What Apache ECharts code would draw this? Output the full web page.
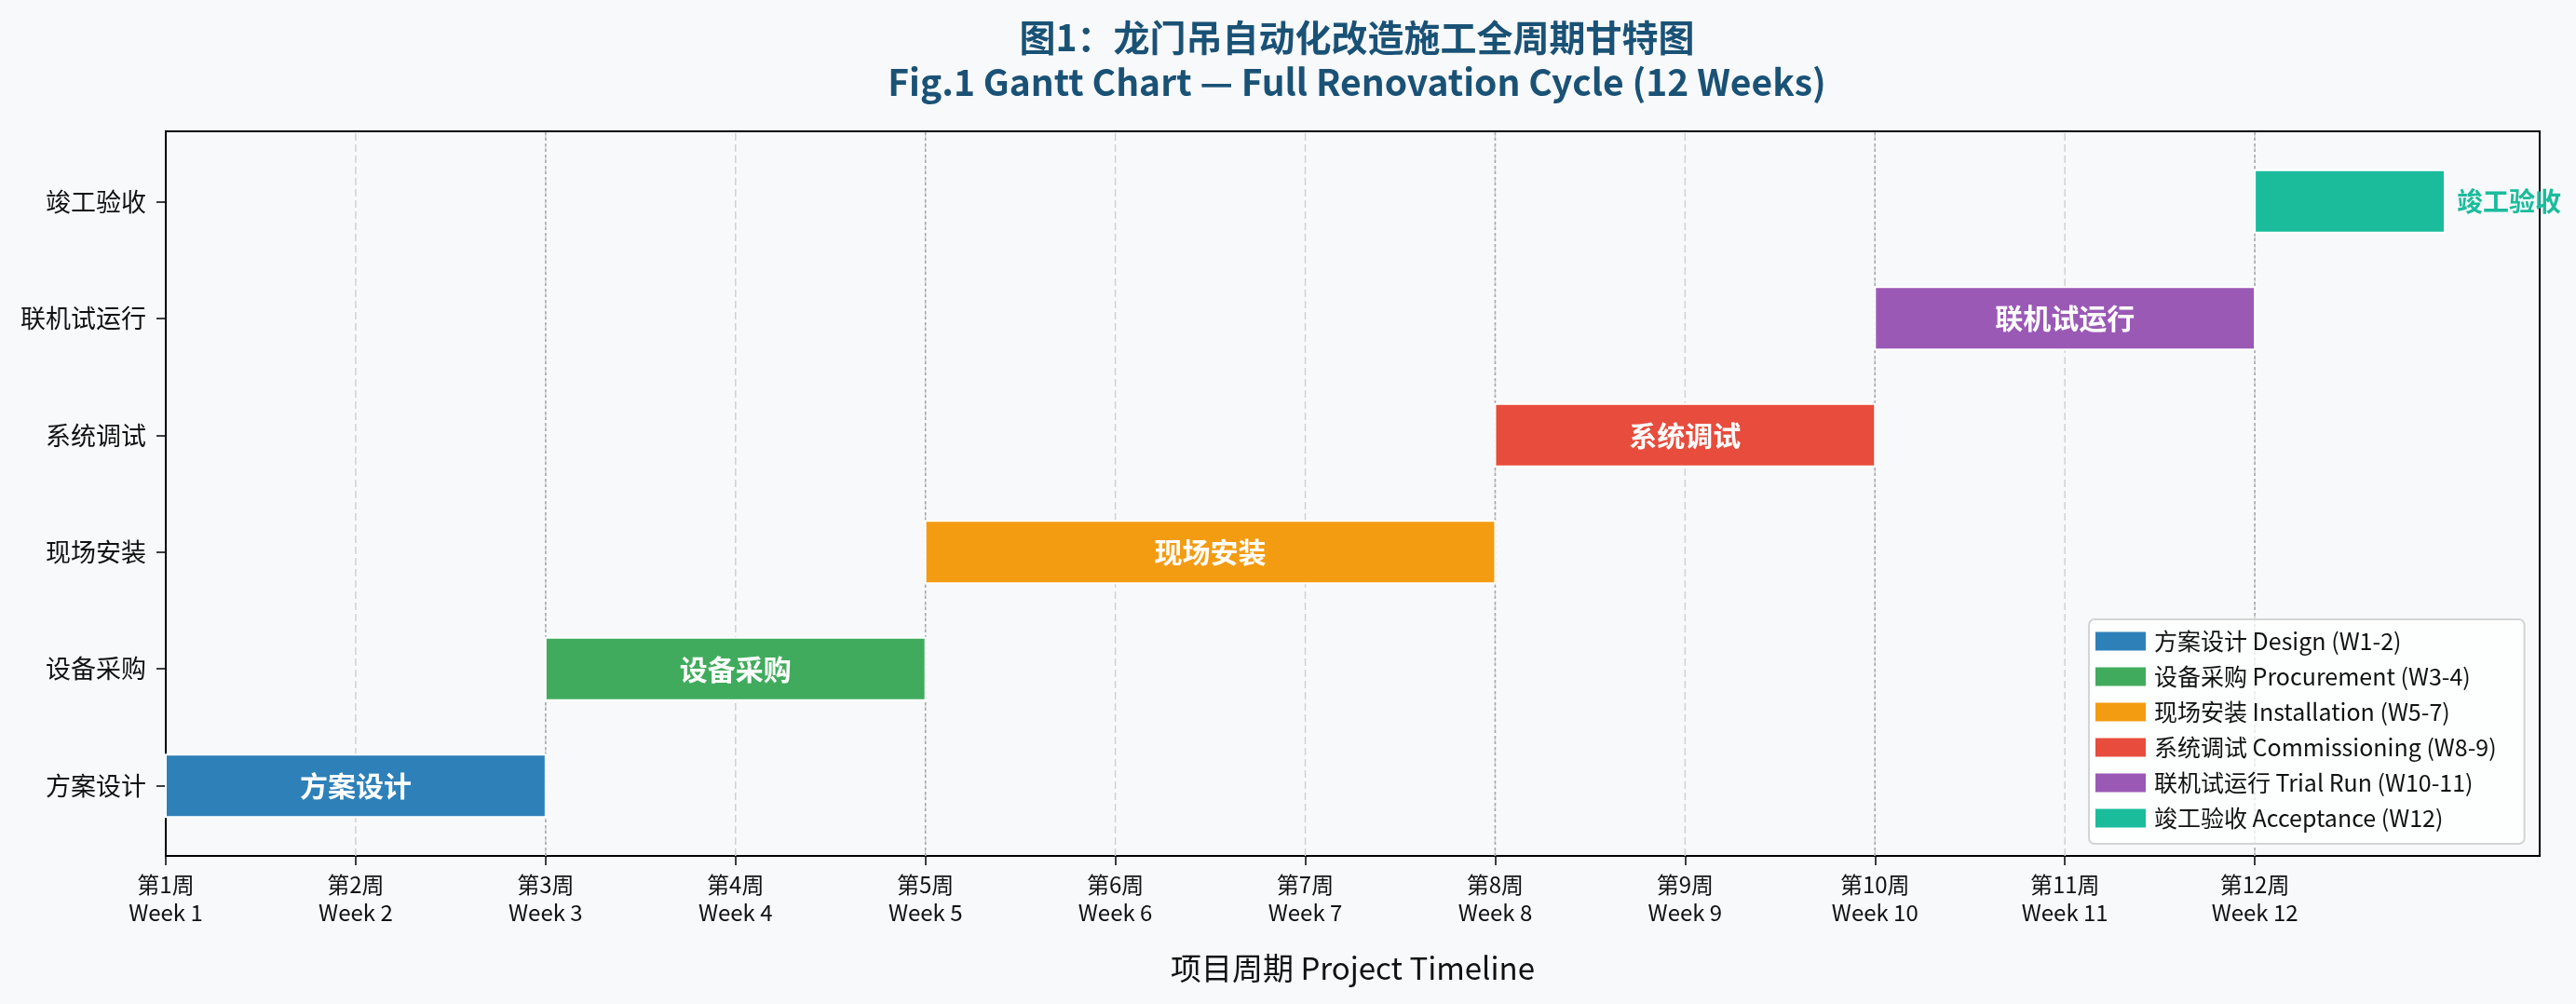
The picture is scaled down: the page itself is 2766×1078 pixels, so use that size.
<!DOCTYPE html>
<html>
<head>
<meta charset="utf-8">
<script src="https://cdn.jsdelivr.net/npm/echarts@6/dist/echarts.min.js"></script>
<style>
  html, body { margin: 0; padding: 0; background: #f8f9fb; }
  #chart { width: 2766px; height: 1078px; }
</style>
</head>
<body>
<div id="chart"></div>
<script>
// 阶段数据 (周)
var phaseNames = ['方案设计', '设备采购', '现场安装', '系统调试', '联机试运行', '竣工验收']
var legendNames = ['方案设计 Design (W1-2)', '设备采购 Procurement (W3-4)', '现场安装 Installation (W5-7)',
  '系统调试 Commissioning (W8-9)', '联机试运行 Trial Run (W10-11)', '竣工验收 Acceptance (W12)']
var startWeek = [1, 3, 5, 8, 10, 12]
var endWeek = [3, 5, 8, 10, 12, 13]
var colors = ['#2e80b9', '#41ab5d', '#f39c12', '#e74c3c', '#9b59b6', '#1abc9c']
var weeks = [1, 2, 3, 4, 5, 6, 7, 8, 9, 10, 11, 12]
var weekCn = ['第1周', '第2周', '第3周', '第4周', '第5周', '第6周', '第7周', '第8周', '第9周', '第10周', '第11周', '第12周']
var weekEn = ['Week 1', 'Week 2', 'Week 3', 'Week 4', 'Week 5', 'Week 6', 'Week 7', 'Week 8', 'Week 9', 'Week 10', 'Week 11', 'Week 12']
var gridWeeks = [2, 3, 4, 5, 6, 7, 8, 9, 10, 11, 12]
var boundaries = [3, 5, 8, 10, 12]

var FONT = "'Noto Sans CJK SC', 'Noto Sans', sans-serif"
var Y_MIN = -0.6
var Y_MAX = 5.6
var mychart = echarts.init(document.getElementById('chart'))

function renderBar(params, api) {
  var idx = api.value(2)
  var s = api.coord([api.value(0), idx])
  var e = api.coord([api.value(1), idx])
  var h = api.size([0, 0.535])[1]
  var last = idx === phaseNames.length - 1
  return {
    type: 'rect',
    shape: { x: s[0], y: s[1] - h / 2, width: e[0] - s[0], height: h },
    style: { fill: api.visual('color'), stroke: '#ffffff', lineWidth: 2 },
    textContent: {
      style: {
        text: phaseNames[idx],
        fill: last ? colors[idx] : '#ffffff',
        font: 'bold ' + (last ? 28 : 30) + 'px ' + FONT
      }
    },
    textConfig: last ? { position: 'right', distance: 12 } : { position: 'inside' }
  }
}

// 竖向网格线
function makeLineRender(color, dash) {
  return function (params, api) {
    var a = api.coord([api.value(0), Y_MIN])
    var b = api.coord([api.value(0), Y_MAX])
    return {
      type: 'line',
      shape: { x1: a[0], y1: a[1], x2: b[0], y2: b[1] },
      style: { stroke: color, lineWidth: 1.5, lineDash: dash }
    }
  }
}

var series = [
  {
    name: 'grid',
    type: 'custom',
    silent: true,
    renderItem: makeLineRender('#d2d2d2', [8, 4]),
    encode: { x: 0, y: 1 },
    data: gridWeeks.map(function (w) { return [w, Y_MIN] }),
    z: 1
  },
  {
    name: 'bounds',
    type: 'custom',
    silent: true,
    renderItem: makeLineRender('#a8a8a8', [3, 3]),
    encode: { x: 0, y: 1 },
    data: boundaries.map(function (w) { return [w, Y_MIN] }),
    z: 1
  }
]

phaseNames.forEach(function (name, i) {
  series.push({
    name: legendNames[i],
    type: 'custom',
    renderItem: renderBar,
    encode: { x: [0, 1], y: 2 },
    itemStyle: { color: colors[i] },
    data: [[startWeek[i], endWeek[i], i]],
    z: 3
  })
})

var option = {
  backgroundColor: '#f8f9fb',
  animation: false,
  textStyle: { fontFamily: FONT },
  title: {
    text: '图1：龙门吊自动化改造施工全周期甘特图\nFig.1 Gantt Chart — Full Renovation Cycle (12 Weeks)',
    left: 1452,
    top: 11,
    textAlign: 'center',
    textStyle: {
      color: '#1a5276',
      fontSize: 39,
      fontWeight: 'bold',
      lineHeight: 48,
      fontFamily: FONT
    }
  },
  legend: {
    orient: 'vertical',
    left: 2243,
    top: 665,
    padding: [11, 30, 15, 7],
    itemWidth: 54,
    itemHeight: 20,
    itemGap: 13,
    icon: 'rect',
    backgroundColor: 'rgba(255,255,255,0.75)',
    borderColor: '#d4d4d4',
    borderWidth: 2,
    borderRadius: 6,
    textStyle: { fontSize: 25, color: '#111', fontFamily: FONT, padding: [0, 0, 0, 4] },
    data: legendNames
  },
  grid: {
    left: 178,
    right: 39,
    top: 141,
    bottom: 159,
    show: true,
    borderColor: '#000',
    borderWidth: 2,
    backgroundColor: 'transparent'
  },
  xAxis: {
    type: 'value',
    position: 'bottom',
    min: 1,
    max: 13.5,
    interval: 1,
    name: '项目周期 Project Timeline',
    nameLocation: 'middle',
    nameGap: 104,
    nameTextStyle: { fontSize: 33, color: '#111', fontFamily: FONT },
    axisLine: { show: false, onZero: false },
    splitLine: { show: false },
    axisTick: {
      show: true,
      length: 10,
      customValues: weeks,
      lineStyle: { color: '#000', width: 1.5 }
    },
    axisLabel: {
      customValues: weeks,
      margin: 16,
      fontSize: 24,
      lineHeight: 30,
      color: '#111',
      fontFamily: FONT,
      formatter: function (v) {
        var k = weeks.indexOf(v)
        return k < 0 ? '' : weekCn[k] + '\n' + weekEn[k]
      }
    }
  },
  yAxis: {
    type: 'value',
    position: 'left',
    min: Y_MIN,
    max: Y_MAX,
    axisLine: { show: false, onZero: false },
    splitLine: { show: false },
    axisTick: {
      show: true,
      length: 10,
      customValues: [0, 1, 2, 3, 4, 5],
      lineStyle: { color: '#000', width: 1.5 }
    },
    axisLabel: {
      customValues: [0, 1, 2, 3, 4, 5],
      margin: 21,
      fontSize: 27,
      color: '#111',
      fontFamily: FONT,
      formatter: function (v) {
        return phaseNames[Math.round(v)] || ''
      }
    }
  },
  series: series
}

mychart.setOption(option)
</script>
</body>
</html>
